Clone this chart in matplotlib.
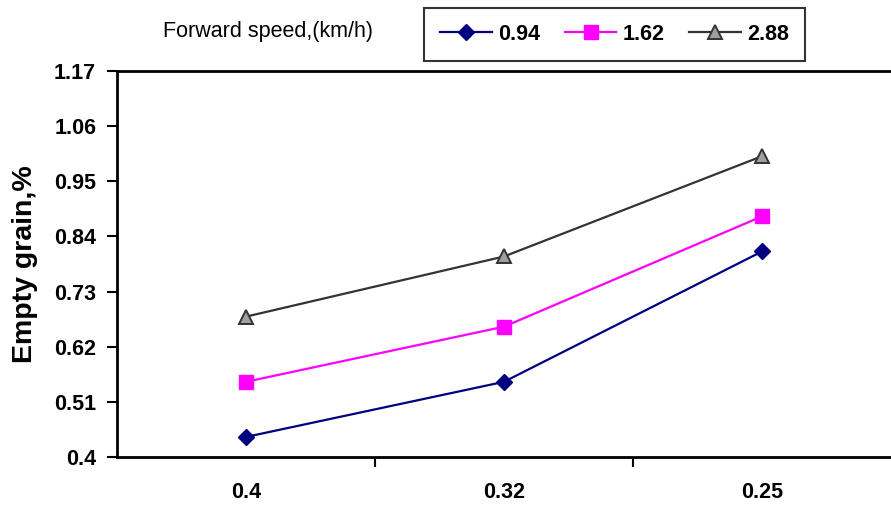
import matplotlib
matplotlib.use("Agg")
import matplotlib.pyplot as plt
from matplotlib.ticker import FixedLocator

plt.rcParams["font.family"] = ["Liberation Sans", "DejaVu Sans"]

# spacing categories (x) and forward speed series
categories = ["0.4", "0.32", "0.25"]
speed_labels = ["0.94", "1.62", "2.88"]
empty_094 = [0.44, 0.55, 0.81]
empty_162 = [0.55, 0.66, 0.88]
empty_288 = [0.68, 0.80, 1.00]
y_ticks = [0.4, 0.51, 0.62, 0.73, 0.84, 0.95, 1.06, 1.17]

fig = plt.figure(figsize=(8.91, 5.09), dpi=100)
ax = fig.add_axes([117 / 891, 1 - 457 / 509, 1 - 117 / 891, (457 - 71) / 509])

x = list(range(len(categories)))
ax.plot(x, empty_094, color="#000080", lw=1.6, marker="D", ms=8.5,
        mfc="#000080", mec="#000080", label=speed_labels[0])
ax.plot(x, empty_162, color="#FF00FF", lw=1.6, marker="s", ms=10,
        mfc="#FF00FF", mec="#FF00FF", label=speed_labels[1])
ax.plot(x, empty_288, color="#333333", lw=1.6, marker="^", ms=10,
        mfc="#a0a0a0", mec="#333333", mew=1.4, label=speed_labels[2])

ax.set_xlim(-0.5, 2.5)
ax.set_ylim(y_ticks[0], y_ticks[-1])

# category labels centred, tick marks between categories
ax.xaxis.set_major_locator(FixedLocator([0.5, 1.5]))
ax.set_xticklabels([])
ax.xaxis.set_minor_locator(FixedLocator(x))
ax.set_xticklabels(categories, minor=True, fontsize=15.5, fontweight="bold")
ax.tick_params(axis="x", which="major", length=7, width=1.5, direction="out")
ax.tick_params(axis="x", which="minor", length=0, pad=18)

ax.set_yticks(y_ticks)
ax.set_yticklabels([f"{v:g}" for v in y_ticks], fontsize=15.5, fontweight="bold")
ax.tick_params(axis="y", length=7, width=1.5, direction="out", pad=8)

# y label anchored by its right edge
ax.set_ylabel("Empty grain,%", fontsize=20.5, fontweight="bold")
ax.yaxis.set_label_coords(-(117 - 38) / (891 - 117), 0.5)

for side in ["left", "bottom", "top"]:
    ax.spines[side].set_linewidth(2)
ax.spines["right"].set_visible(False)

fig.text(163 / 891, 1 - 31 / 509, "Forward speed,(km/h)", fontsize=15.5, va="center")

leg = ax.legend(ncol=3, loc="center", bbox_to_anchor=(614.5 / 891, 1 - 34.5 / 509),
                bbox_transform=fig.transFigure, frameon=True, fancybox=False,
                prop={"weight": "bold", "size": 15.5}, handlelength=2.4, handletextpad=0.28,
                columnspacing=1.15, borderpad=0.75, borderaxespad=0)
leg.get_frame().set_edgecolor("black")
leg.get_frame().set_linewidth(1.5)

fig.savefig("out.png", dpi=100)
